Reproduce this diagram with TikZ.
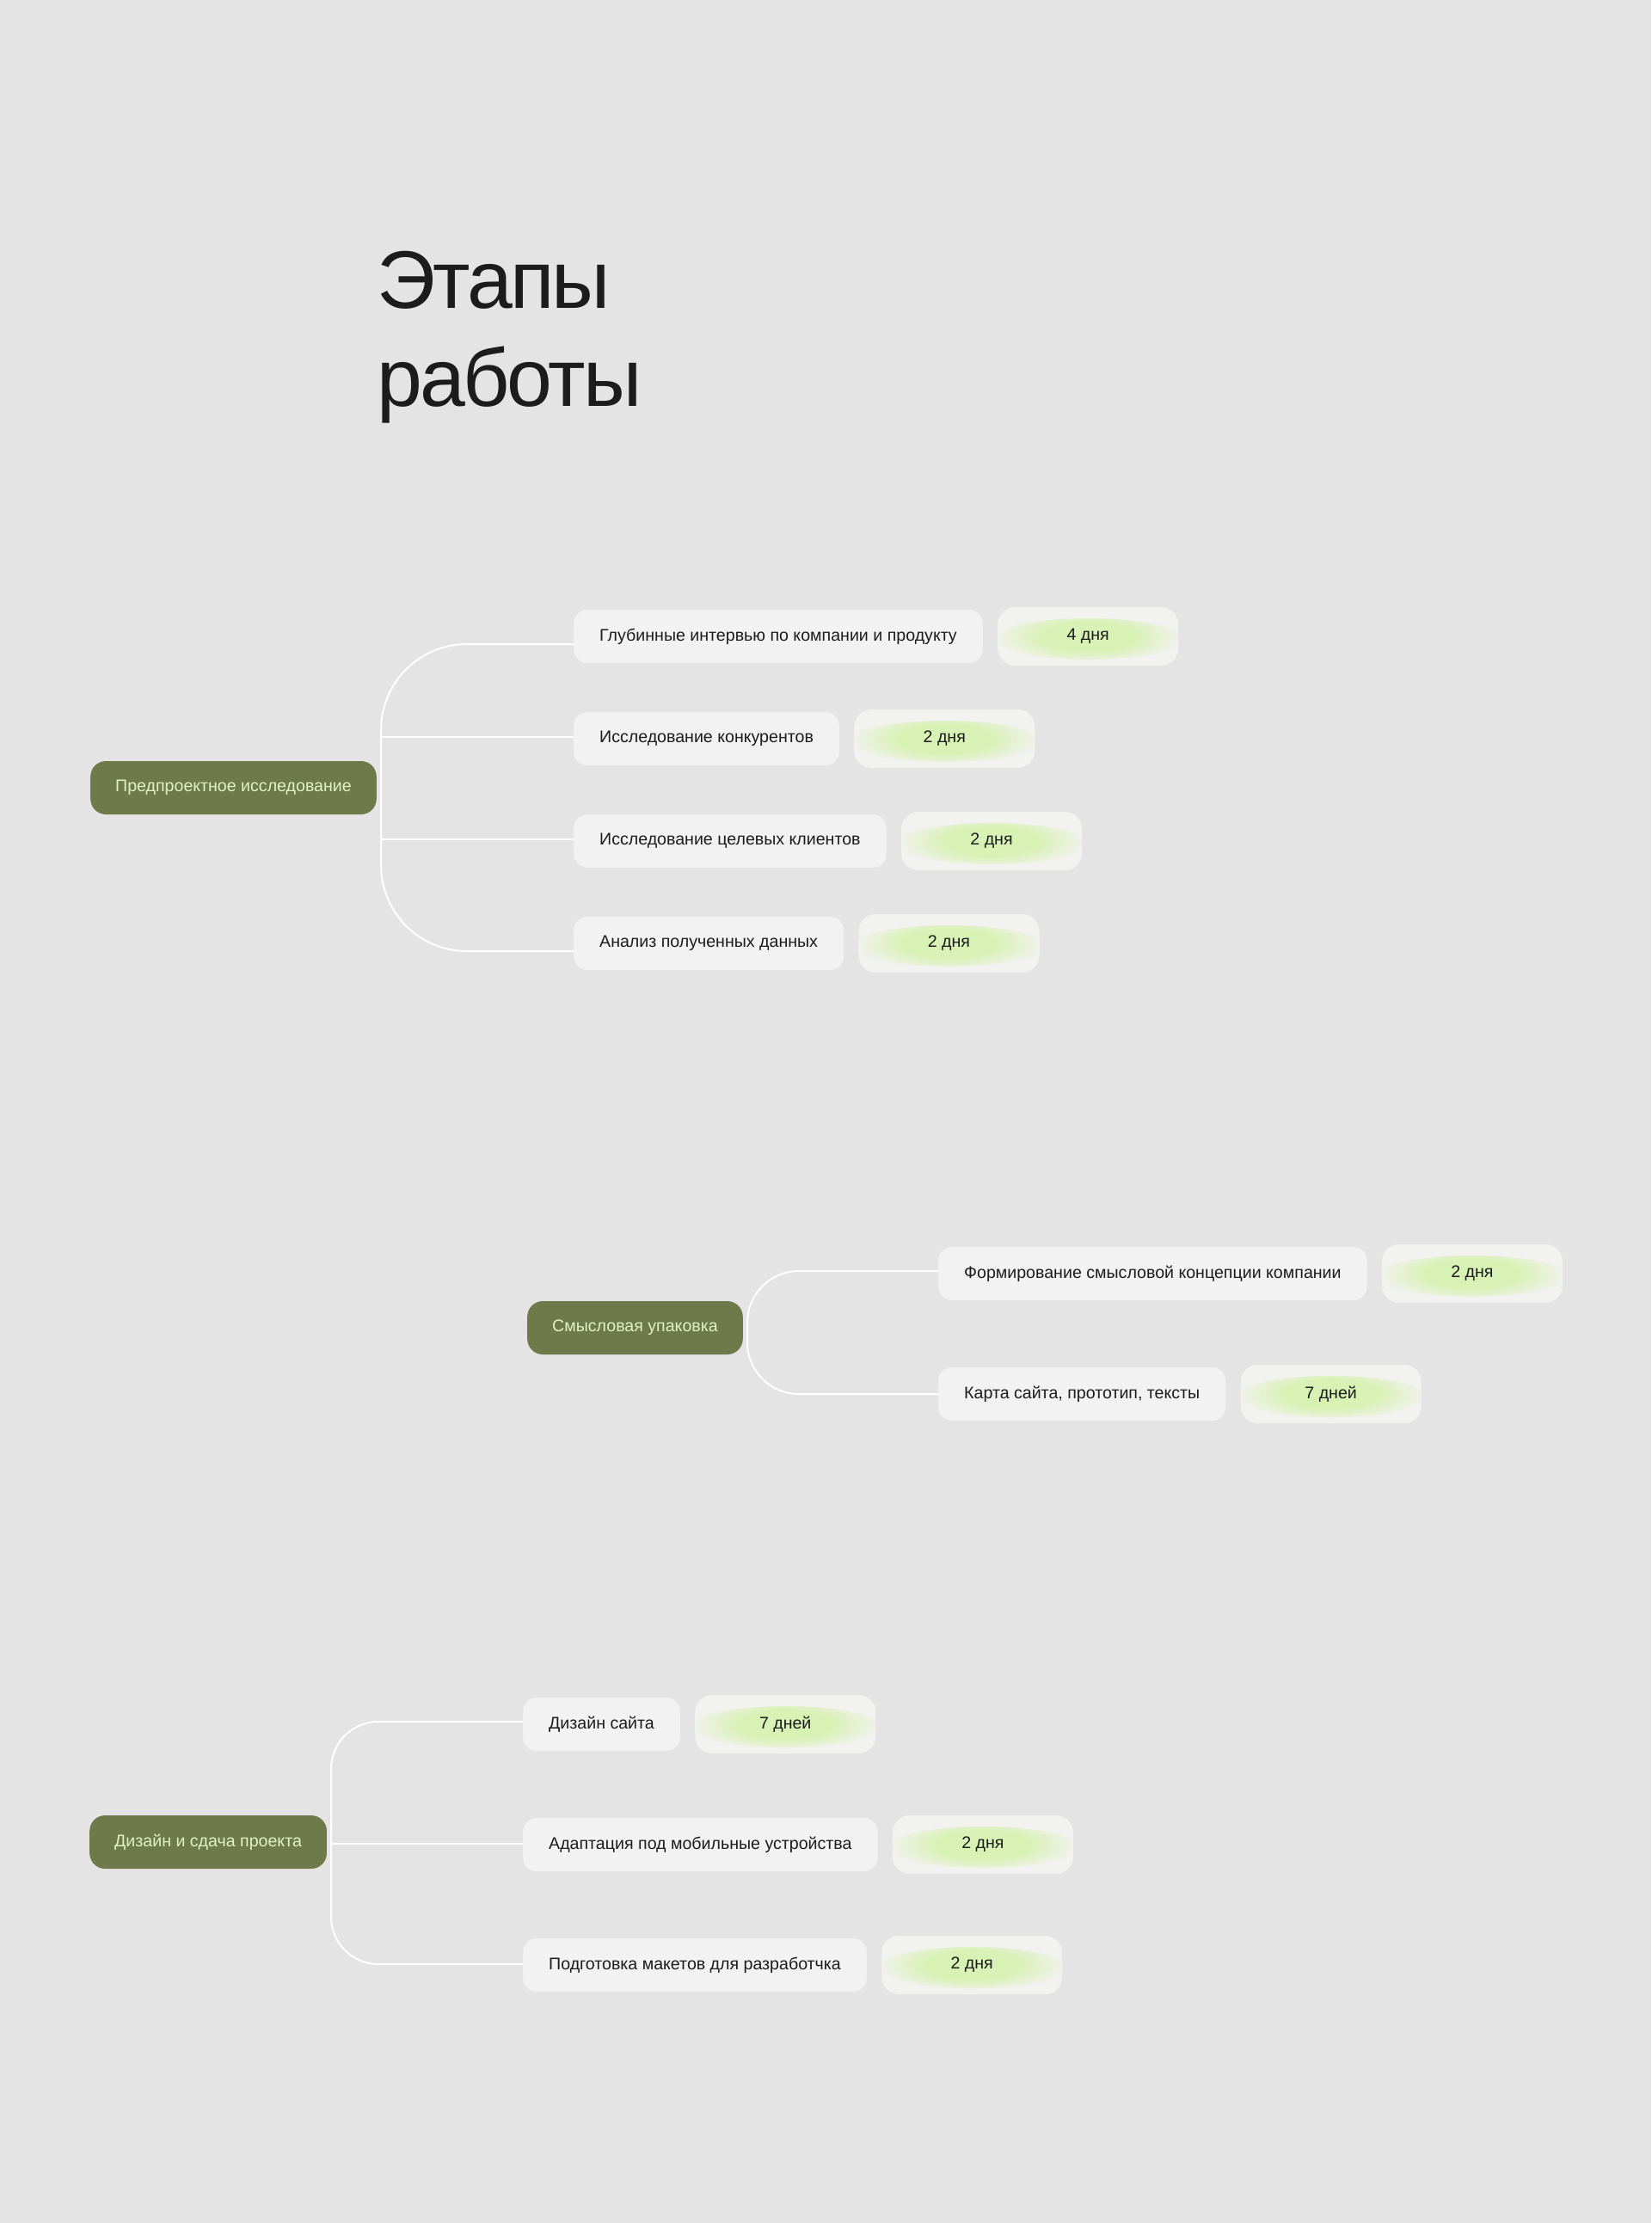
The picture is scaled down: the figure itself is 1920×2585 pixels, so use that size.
\documentclass[tikz,border=0pt]{standalone}
\usepackage{fontspec}
\setmainfont{Liberation Sans}
\newfontfamily\titlefont[LetterSpace=-3]{Liberation Sans}
\usetikzlibrary{positioning}

\definecolor{bgcol}{HTML}{E4E4E4}
\definecolor{taskcol}{HTML}{F2F2F2}
\definecolor{badgecol}{HTML}{F2F2F1}
\definecolor{glowcol}{HTML}{D8F1B4}
\definecolor{olivecol}{HTML}{6E7A4A}
\definecolor{olivetext}{HTML}{E3F0C3}
\definecolor{inkcol}{HTML}{1C1C1C}

\pgfdeclareradialshading{daysglow}{\pgfpoint{0bp}{0bp}}{%
  color(0bp)=(glowcol); color(12bp)=(glowcol);
  color(25bp)=(badgecol); color(50bp)=(badgecol)}

\tikzset{
  stage/.style={fill=olivecol, text=olivetext, rounded corners=18pt,
    minimum height=62pt, inner xsep=29pt, inner ysep=0pt,
    font=\fontsize{19.6}{24}\selectfont},
  task/.style={fill=taskcol, text=inkcol, rounded corners=16pt,
    minimum height=62pt, inner xsep=30pt, inner ysep=0pt,
    font=\fontsize{19.6}{24}\selectfont},
  days/.style={fill=badgecol, text=inkcol, rounded corners=20pt,
    minimum width=210pt, minimum height=68pt, inner sep=0pt,
    right=17pt of #1, font=\fontsize{19.6}{24}\selectfont,
    path picture={\shade[shading=daysglow]
      ([yshift=-3pt]path picture bounding box.center) ellipse (112pt and 24pt);}},
  branch/.style={draw=white, line width=2pt},
  title/.style={text=inkcol, inner sep=0pt, anchor=base west,
    font=\titlefont\fontsize{95}{114}\selectfont},
}

\begin{document}
\begin{tikzpicture}[x=1pt, y=1pt]
  \fill[bgcol] (0,0) rectangle (1920,-2585);
  \useasboundingbox (0,0) rectangle (1920,-2585);

  % title
  \node[title] (ttl1) at (438,-358) {Этапы};
  \node[title] (ttl2) at ([yshift=-114pt]ttl1.base west) {работы};

  % stage 1
  \node[stage, anchor=west] (pre) at (105,-916) {Предпроектное исследование};
  \coordinate (t1) at (443,-916);
  \node[task, anchor=west] (g1) at (667,-740) {Глубинные интервью по компании и продукту};
  \node[task, anchor=west] (g2) at (667,-859) {Исследование конкурентов};
  \node[task, anchor=west] (g3) at (667,-978) {Исследование целевых клиентов};
  \node[task, anchor=west] (g4) at (667,-1097) {Анализ полученных данных};
  \node[days=g1] (d1) {4 дня};
  \node[days=g2] (d2) {2 дня};
  \node[days=g3] (d3) {2 дня};
  \node[days=g4] (d4) {2 дня};
  \draw[branch, rounded corners=100pt] (t1) |- ([yshift=-9pt]g1.west);
  \draw[branch, rounded corners=100pt] (t1) |- ([yshift=-9pt]g4.west);
  \draw[branch] ([yshift=2pt]g2.west -| t1) -- ([yshift=2pt]g2.west);
  \draw[branch] ([yshift=2pt]g3.west -| t1) -- ([yshift=2pt]g3.west);

  % stage 2
  \node[stage, anchor=west] (sem) at (613,-1544) {Смысловая упаковка};
  \coordinate (t2) at (869,-1544);
  \node[task, anchor=west] (s1) at (1091,-1481) {Формирование смысловой концепции компании};
  \node[task, anchor=west] (s2) at (1091,-1621) {Карта сайта, прототип, тексты};
  \node[days=s1] (d5) {2 дня};
  \node[days=s2] (d6) {7 дней};
  \draw[branch, rounded corners=60pt] (t2) |- ([yshift=3pt]s1.west);
  \draw[branch, rounded corners=60pt] (t2) |- (s2.west);

  % stage 3
  \node[stage, anchor=west] (des) at (104,-2142) {Дизайн и сдача проекта};
  \coordinate (t3) at (385,-2142);
  \node[task, anchor=west] (w1) at (608,-2005) {Дизайн сайта};
  \node[task, anchor=west] (w2) at (608,-2145) {Адаптация под мобильные устройства};
  \node[task, anchor=west] (w3) at (608,-2285) {Подготовка макетов для разработчка};
  \node[days=w1] (d7) {7 дней};
  \node[days=w2] (d8) {2 дня};
  \node[days=w3] (d9) {2 дня};
  \draw[branch, rounded corners=55pt] (t3) |- ([yshift=3pt]w1.west);
  \draw[branch, rounded corners=55pt] (t3) |- ([yshift=1pt]w3.west);
  \draw[branch] ([yshift=1pt]w2.west -| t3) -- ([yshift=1pt]w2.west);
\end{tikzpicture}
\end{document}
